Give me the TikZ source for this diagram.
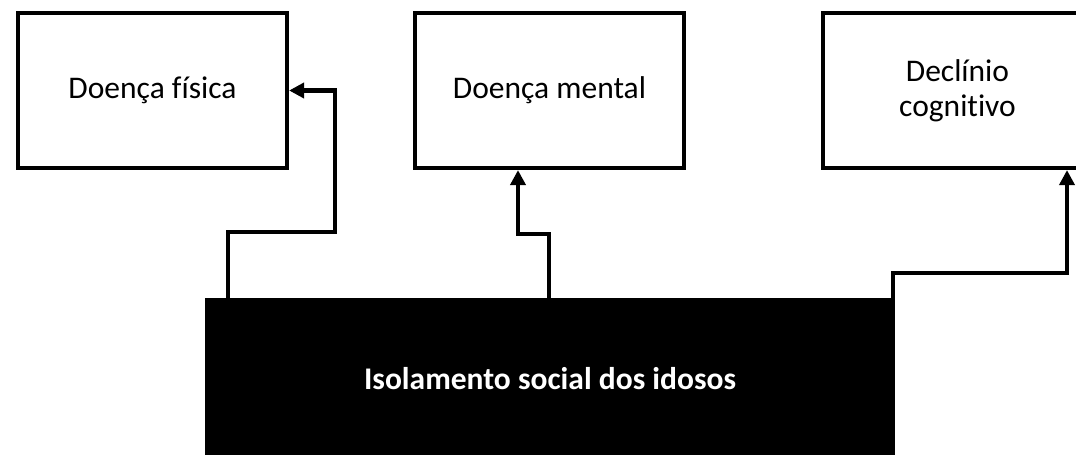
\documentclass[tikz,border=0pt]{standalone}
\usepackage{fontspec}
\setmainfont{Carlito}[Ligatures=CommonOff]
\usetikzlibrary{arrows.meta}
\tikzset{
  box/.style={draw=black, line width=4.2pt, fill=white, minimum width=269pt, minimum height=155pt,
    inner sep=0pt, align=center, font=\fontsize{31.5}{35}\selectfont},
  blackbox/.style={fill=black, draw=none, minimum width=690pt, minimum height=162pt, inner sep=0pt,
    text=white, font=\fontsize{31.5}{35}\selectfont\bfseries},
  arr/.style={line width=4.2pt, -{Triangle[length=15pt,width=15pt]}}
}
\begin{document}
\begin{tikzpicture}[x=1pt,y=-1pt]
\clip (0,0) rectangle (1076,455);
\fill[white] (0,0) rectangle (1076,455);
\node[box] (fis) at (152.5,90.5) {Doença física};
\node[box] (men) at (549.5,90.5) {Doença mental};
\node[box] (dec) at (957.5,90.5) {Declínio\\cognitivo};
\node[blackbox] (iso) at (550,379) {Isolamento social dos idosos};
\coordinate (c1) at (335,232);
\coordinate (c2) at (518,234);
\coordinate (c3) at (1067,273);
\draw[arr] ([xshift=23pt]iso.north west) |- (c1) |- (fis.east);
\draw[arr] ([xshift=-1pt]iso.north) |- (c2) -- (c2 |- men.south);
\draw[arr] ([xshift=-2pt]iso.north east) |- (c3) -- (c3 |- dec.south);
\end{tikzpicture}
\end{document}
